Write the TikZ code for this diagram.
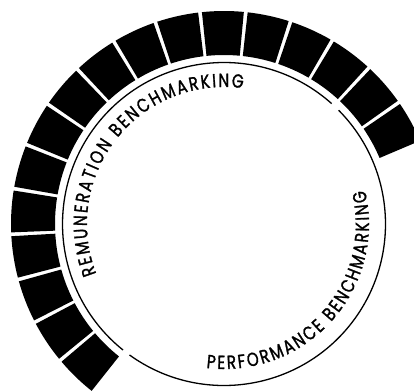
\documentclass[tikz,border=0pt]{standalone}
\usepackage{fontspec}
\newfontfamily\ringfont{Poppins}[FakeBold=1.4, FakeStretch=0.8]
\usetikzlibrary{decorations.text}

\begin{document}
\begin{tikzpicture}[x=1pt, y=1pt,
    block/.style={fill=black},
    ring/.style={draw=black, line width=1.3pt},
    arclabel/.style={decorate, decoration={text along path, text align={fit to path}, text={#1}}}
  ]
    \useasboundingbox (-224,-166) rectangle (190,224);
    % blocks of the outer band
    \foreach \i in {-5,...,11} {
      \pgfmathsetmacro\lo{90.3+12.33*\i-5.65}
      \pgfmathsetmacro\hi{90.3+12.33*\i+5.65}
      \fill[block] (\lo:169pt) arc[start angle=\lo, end angle=\hi, radius=169pt]
        -- (\hi:213pt) arc[start angle=\hi, end angle=\lo, radius=213pt] -- cycle;
    }
    % thin ring, split in two
    \draw[ring] (48.2:161.5pt) arc[start angle=48.2, end angle=231.3, radius=161.5pt];
    \draw[ring] (234.2:161.5pt) arc[start angle=234.2, end angle=404.8, radius=161.5pt];
    % labels along the ring
    \ringfont\fontsize{19}{23}\selectfont
    \path[arclabel={REMUNERATION BENCHMARKING}]
      (201.3:137pt) arc[start angle=201.3, end angle=82, radius=137pt];
    \path[arclabel={PERFORMANCE BENCHMARKING}]
      (263:145pt) arc[start angle=263, end angle=373.5, radius=145pt];
  \end{tikzpicture}
\end{document}
